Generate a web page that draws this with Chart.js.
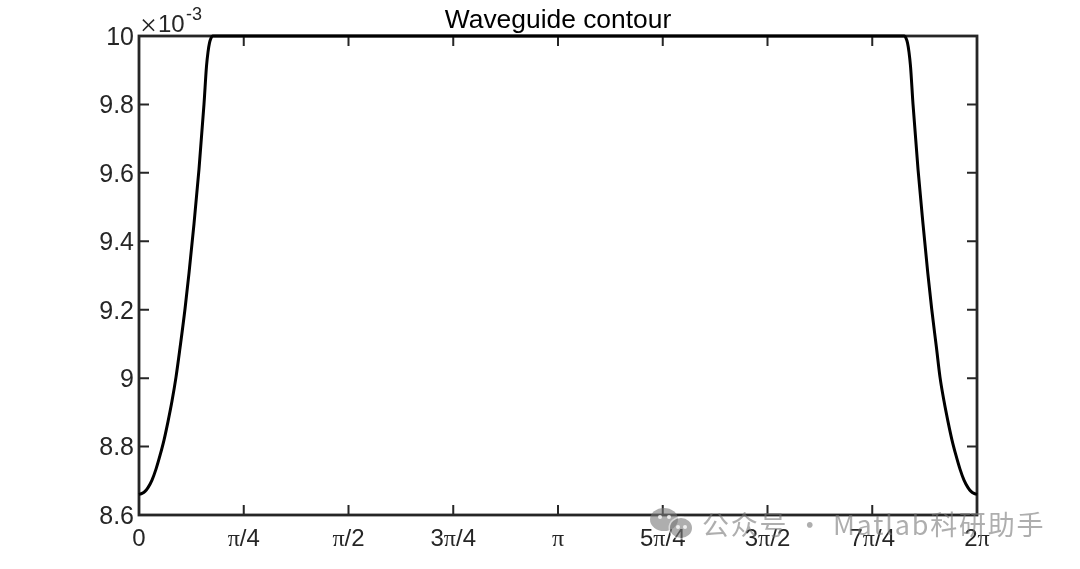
<!DOCTYPE html>
<html>
<head>
<meta charset="utf-8">
<style>
html, body { margin: 0; padding: 0; background: #fff; }
#wrap { position: relative; width: 1080px; height: 569px; }
#contour { display: block; }
#wm { position: absolute; left: 702px; top: 504px; font: 27px "Noto Sans CJK SC", "Noto Sans", sans-serif; letter-spacing: 1.8px; color: rgba(120,120,120,0.6); white-space: nowrap; }
.chat { position: absolute; background: rgba(120,120,120,0.6); border-radius: 50%; }
.eye { position: absolute; width: 4px; height: 4px; border-radius: 50%; background: rgba(255,255,255,0.8); }
</style>
<script src="https://cdn.jsdelivr.net/npm/chart.js@4/dist/chart.umd.js"></script>
</head>
<body>
<div id="wrap">
<canvas id="contour" width="1080" height="569"></canvas>
<div class="chat" style="left:650px;top:508px;width:28px;height:23px"></div>
<div class="chat" style="left:670px;top:518px;width:22px;height:20px;box-shadow:0 0 0 1.5px rgba(255,255,255,0.55)"></div>
<div class="eye" style="left:658px;top:515px"></div>
<div class="eye" style="left:667px;top:515px"></div>
<div class="eye" style="left:676px;top:525px"></div>
<div class="eye" style="left:683px;top:525px"></div>
<div id="wm">公众号 · Matlab科研助手</div>
</div>
<script>
const pi = Math.PI;
// x in units of pi, y in units of 1e-3
const thetaPi = [0, 0.00716, 0.01432, 0.02148, 0.03103, 0.04057, 0.05012, 0.05967, 0.06921, 0.07876, 0.08831,
  0.09785, 0.10979, 0.11933, 0.13126, 0.1432, 0.15513, 0.1611, 0.16468, 0.16826, 0.17184, 0.17542,
  1.82697, 1.83055, 1.83413, 1.83771, 1.84129, 1.84726, 1.85919, 1.87112, 1.88258, 1.89189, 1.90334,
  1.91169, 1.92124, 1.93079, 1.94033, 1.94988, 1.95943, 1.96897, 1.97852, 1.98568, 1.99284, 2];
const radius = [8.66, 8.663, 8.669, 8.68, 8.702, 8.734, 8.774, 8.819, 8.873, 8.933, 9.003,
  9.088, 9.202, 9.307, 9.451, 9.611, 9.801, 9.912, 9.953, 9.98, 9.994, 10,
  10, 9.994, 9.98, 9.953, 9.912, 9.801, 9.611, 9.451, 9.307, 9.202, 9.088,
  9.003, 8.933, 8.873, 8.819, 8.774, 8.734, 8.702, 8.68, 8.669, 8.663, 8.66];
const xTickLabels = ["0", "π/4", "π/2", "3π/4", "π", "5π/4", "3π/2", "7π/4", "2π"];
const yTickLabels = ["8.6", "8.8", "9", "9.2", "9.4", "9.6", "9.8", "10"];

const axisColor = "#262626";
const sans = '24px "Liberation Sans"';
const serif = '24px "Liberation Serif"';
const points = thetaPi.map((t, i) => ({ x: t * pi, y: radius[i] }));

// the pi glyph is serif in the original, so labels are split into runs
function drawMixedLabel(ctx, label, cx, baseline) {
  const runs = label.split(/(π)/).filter(Boolean);
  const widthOf = (r) => {
    ctx.font = r === "π" ? serif : sans;
    return ctx.measureText(r).width;
  };
  let x = cx - runs.reduce((sum, r) => sum + widthOf(r), 0) / 2;
  runs.forEach((r) => {
    ctx.font = r === "π" ? serif : sans;
    ctx.fillText(r, x, baseline);
    x += ctx.measureText(r).width;
  });
}

// MATLAB style box: ticks point inwards on all four sides
const boxTicks = {
  id: "boxTicks",
  beforeDatasetsDraw(chart) {
    const { ctx, chartArea: a, scales } = chart;
    ctx.save();
    ctx.strokeStyle = axisColor;
    ctx.lineWidth = 2;
    ctx.beginPath();
    scales.x.ticks.forEach((t) => {
      const x = scales.x.getPixelForValue(t.value);
      ctx.moveTo(x, a.bottom); ctx.lineTo(x, a.bottom - 10);
      ctx.moveTo(x, a.top); ctx.lineTo(x, a.top + 10);
    });
    scales.y.ticks.forEach((t) => {
      const y = scales.y.getPixelForValue(t.value);
      ctx.moveTo(a.left, y); ctx.lineTo(a.left + 10, y);
      ctx.moveTo(a.right, y); ctx.lineTo(a.right - 10, y);
    });
    ctx.stroke();
    ctx.lineWidth = 2.8;
    ctx.strokeRect(a.left, a.top, a.right - a.left, a.bottom - a.top);
    ctx.restore();
  },
  afterDraw(chart) {
    const { ctx, scales } = chart;
    ctx.save();
    ctx.fillStyle = axisColor;
    ctx.textAlign = "left";
    ctx.textBaseline = "alphabetic";
    xTickLabels.forEach((label, i) => {
      drawMixedLabel(ctx, label, scales.x.getPixelForValue((i * pi) / 4), 546);
    });
    // exponent above the y axis
    ctx.font = '30px "Liberation Serif"';
    ctx.fillText("×", 140, 35);
    ctx.font = sans;
    ctx.fillText("10", 158, 32);
    ctx.font = '18px "Liberation Sans"';
    ctx.fillText("-3", 186, 20);
    ctx.restore();
  },
};

new Chart(document.getElementById("contour"), {
  type: "line",
  data: {
    datasets: [
      {
        data: points,
        borderColor: "#000",
        borderWidth: 3,
        pointRadius: 0,
        cubicInterpolationMode: "monotone",
        clip: false,
      },
    ],
  },
  options: {
    responsive: false,
    animation: false,
    layout: { padding: { left: 0, right: 103, top: 0, bottom: 0 } },
    plugins: {
      legend: { display: false },
      tooltip: { enabled: false },
      title: {
        display: true,
        fullSize: false,
        text: "Waveguide contour",
        color: "#000",
        font: { family: "Liberation Sans", size: 26.4, weight: "normal", lineHeight: 1 },
        padding: { top: 7.5, bottom: 2.1 },
      },
    },
    scales: {
      x: {
        type: "linear",
        min: 0,
        max: 2 * pi,
        afterBuildTicks: (axis) => {
          axis.ticks = xTickLabels.map((_, i) => ({ value: (i * pi) / 4 }));
        },
        afterFit: (axis) => { axis.height = 54; },
        grid: { display: false },
        border: { display: false },
        ticks: { display: false },
      },
      y: {
        min: 8.6,
        max: 10,
        afterBuildTicks: (axis) => {
          axis.ticks = yTickLabels.map((l) => ({ value: Number(l) }));
        },
        afterFit: (axis) => { axis.width = 139; },
        grid: { display: false, drawTicks: false },
        border: { display: false },
        ticks: {
          color: axisColor,
          font: { family: "Liberation Sans", size: 25 },
          autoSkip: false,
          padding: 5,
          labelOffset: 2,
          callback: (v, i) => yTickLabels[i],
        },
      },
    },
  },
  plugins: [boxTicks],
});
</script>
</body>
</html>
